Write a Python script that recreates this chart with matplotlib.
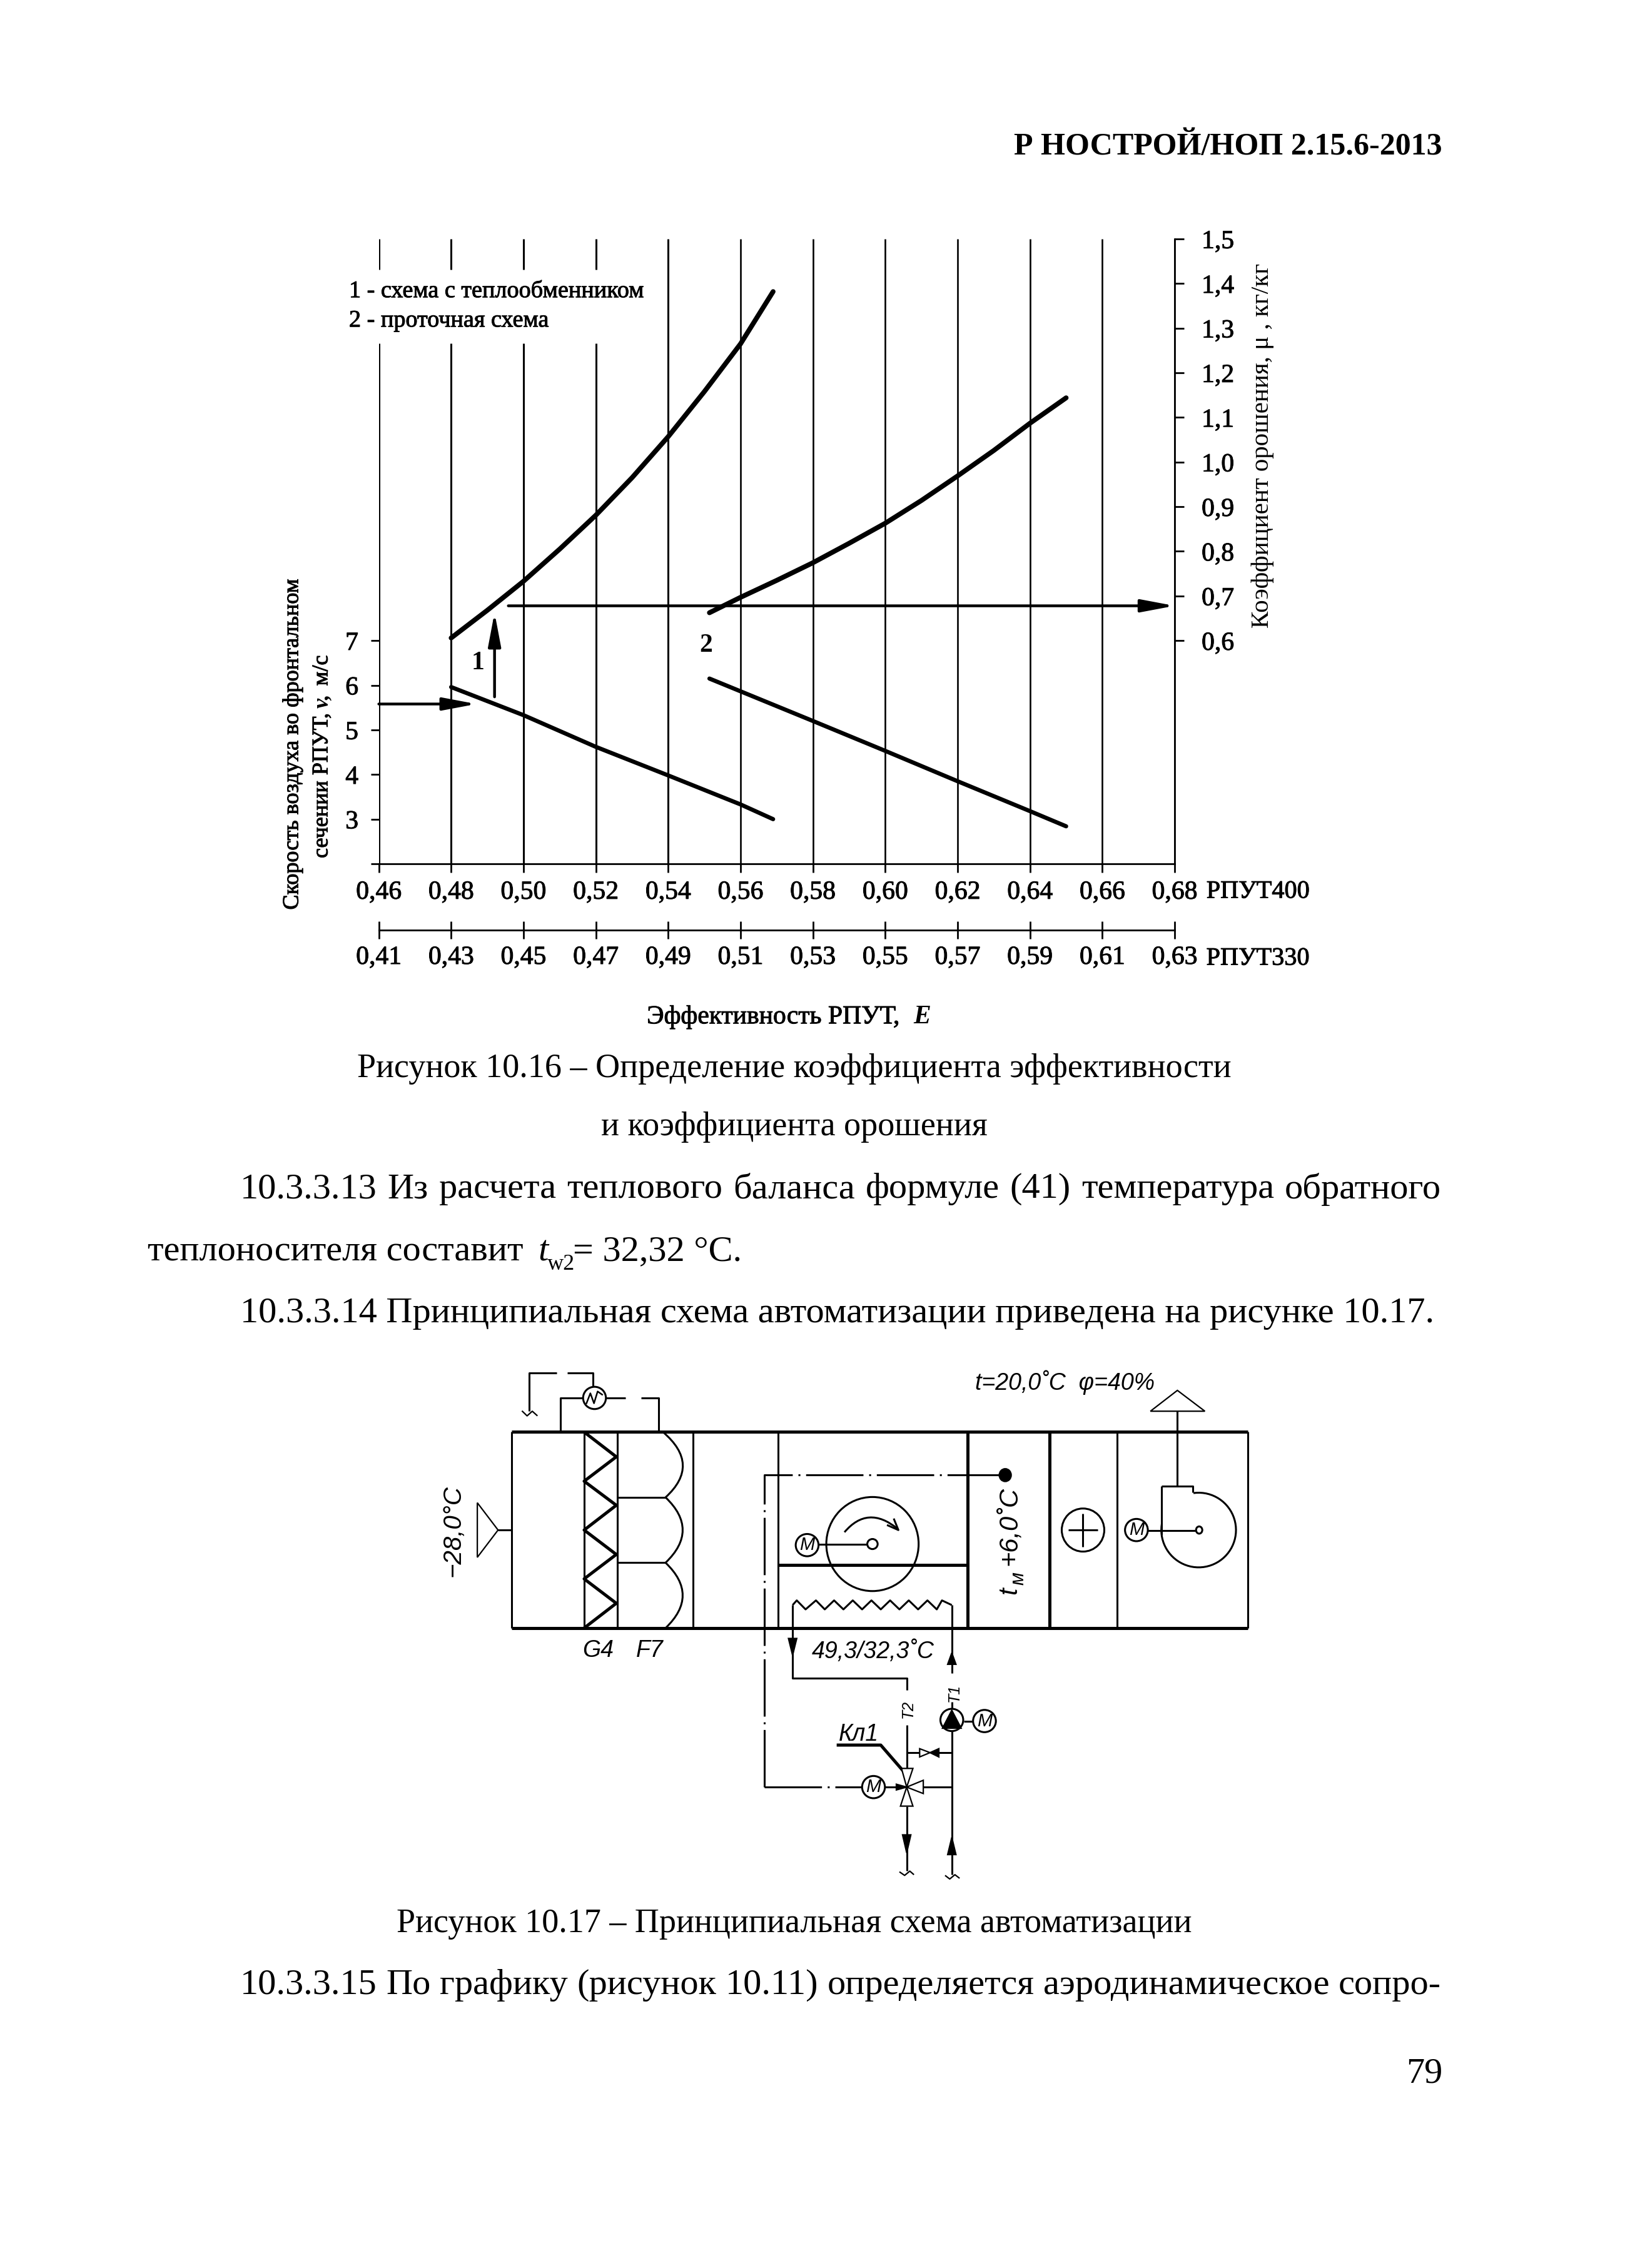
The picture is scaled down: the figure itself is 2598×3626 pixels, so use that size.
import numpy as np
import matplotlib
matplotlib.use('Agg')
import matplotlib.pyplot as plt
import matplotlib.patheffects as pe
from matplotlib.patches import Ellipse, Polygon, PathPatch
from matplotlib.path import Path

W, H = 2598, 3626

plt.rcParams['font.family'] = ['Liberation Serif', 'DejaVu Serif']

# chart data, E axis is the РПУТ400 one
e_ticks_400 = [0.46, 0.48, 0.50, 0.52, 0.54, 0.56, 0.58, 0.60, 0.62, 0.64, 0.66, 0.68]
e_labels_400 = ['0,46', '0,48', '0,50', '0,52', '0,54', '0,56', '0,58', '0,60', '0,62', '0,64', '0,66', '0,68']
e_ticks_330 = [0.41, 0.43, 0.45, 0.47, 0.49, 0.51, 0.53, 0.55, 0.57, 0.59, 0.61, 0.63]
e_labels_330 = ['0,41', '0,43', '0,45', '0,47', '0,49', '0,51', '0,53', '0,55', '0,57', '0,59', '0,61', '0,63']
v_ticks = [2, 3, 4, 5, 6, 7]
v_labels = ['', '3', '4', '5', '6', '7']
mu_ticks = [0.6, 0.7, 0.8, 0.9, 1.0, 1.1, 1.2, 1.3, 1.4, 1.5]
mu_labels = ['0,6', '0,7', '0,8', '0,9', '1,0', '1,1', '1,2', '1,3', '1,4', '1,5']

mu1_e = [0.48, 0.49, 0.50, 0.51, 0.52, 0.53, 0.54, 0.55, 0.56, 0.569]
mu1 = [0.606, 0.668, 0.733, 0.805, 0.881, 0.965, 1.057, 1.158, 1.265, 1.382]
mu2_e = [0.5514, 0.56, 0.57, 0.58, 0.59, 0.60, 0.61, 0.62, 0.63, 0.64, 0.65]
mu2 = [0.6625, 0.697, 0.735, 0.7745, 0.818, 0.863, 0.914, 0.969, 1.026, 1.087, 1.144]
v1_e = [0.48, 0.50, 0.52, 0.54, 0.56, 0.569]
v1 = [5.96, 5.33, 4.62, 3.98, 3.33, 3.0]
v2_e = [0.5514, 0.58, 0.60, 0.62, 0.64, 0.65]
v2 = [6.15, 5.2, 4.53, 3.85, 3.18, 2.84]

# reading arrows
arrow_v_in = (0.46, 0.487, 5.58)
arrow_up = (0.492, 5.74, 7.63)
arrow_mu_out = (0.4958, 0.68, 0.678)

fig = plt.figure(figsize=(W / 100, H / 100), dpi=100, facecolor='white')

# page layer in pixels
page = fig.add_axes([0, 0, 1, 1])
page.set_xlim(0, W)
page.set_ylim(H, 0)
page.axis('off')

BODY = 42
CAPTION = 39
CHART = 30
heavy = [pe.withStroke(linewidth=0.7, foreground='k')]


def ptext(x, y, s, size=BODY, **kw):
    kw.setdefault('va', 'center')
    return page.text(x, y, s, fontsize=size, **kw)


def justified(s, x0, x1, y):
    r = fig.canvas.get_renderer()
    words = s.split(' ')
    widths = []
    for w in words:
        t = ptext(0, 0, w)
        widths.append(t.get_window_extent(r).width)
        t.remove()
    gap = (x1 - x0 - sum(widths)) / (len(words) - 1)
    x = x0
    for w, wd in zip(words, widths):
        ptext(x, y, w)
        x += wd + gap


ptext(2306, 235, 'Р НОСТРОЙ/НОП 2.15.6-2013', size=36, ha='right', weight='bold')
ptext(1270, 1709, 'Рисунок 10.16 – Определение коэффициента эффективности', size=CAPTION, ha='center')
ptext(1270, 1802, 'и коэффициента орошения', size=CAPTION, ha='center')
justified('10.3.3.13 Из расчета теплового баланса формуле (41) температура обратного', 384, 2304, 1901)
ptext(236, 2001, 'теплоносителя составит')
ptext(860, 2001, 't', style='italic')
ptext(875, 2022, 'w2', size=26)
ptext(916, 2001, '= 32,32 °C.')
ptext(384, 2100, '10.3.3.14 Принципиальная схема автоматизации приведена на рисунке 10.17.')
ptext(1270, 3076, 'Рисунок 10.17 – Принципиальная схема автоматизации', size=CAPTION, ha='center')
justified('10.3.3.15 По графику (рисунок 10.11) определяется аэродинамическое сопро-', 384, 2304, 3174)
ptext(2306, 3316, '79', ha='right')

# chart
L, R, T, B = 605.6, 1878, 382, 1381
ax = fig.add_axes([L / W, 1 - B / H, (R - L) / W, (B - T) / H])
ax.patch.set_alpha(0)
ax.set_xlim(e_ticks_400[0], e_ticks_400[-1])
ax.set_ylim(2, 16)
for s in ['top', 'left', 'right']:
    ax.spines[s].set_visible(False)
ax.spines['bottom'].set_linewidth(2)

for e in e_ticks_400:
    if e <= 0.52:
        ax.vlines(e, 2, 13.66, color='k', lw=2.2)
        ax.vlines(e, 15.31, 16, color='k', lw=2.2)
    else:
        ax.vlines(e, 2, 16, color='k', lw=2.2 if e <= 0.54 else 1.9)

ax.set_xticks(e_ticks_400)
ax.set_xticklabels(e_labels_400, fontsize=CHART, path_effects=heavy)
ax.set_yticks(v_ticks)
ax.set_yticklabels(v_labels, fontsize=CHART, path_effects=heavy)
ax.tick_params(axis='x', direction='out', length=10, width=2, pad=9)
ax.tick_params(axis='y', direction='out', length=9.5, width=2, pad=14)

ax.plot(mu1_e, (np.array(mu1) + 0.1) * 10, color='k', lw=5.6, solid_capstyle='round')
ax.plot(mu2_e, (np.array(mu2) + 0.1) * 10, color='k', lw=5.6, solid_capstyle='round')
ax.plot(v1_e, v1, color='k', lw=4.8, solid_capstyle='round')
ax.plot(v2_e, v2, color='k', lw=4.8, solid_capstyle='round')

arrow = dict(arrowstyle='-|>,head_length=0.9,head_width=0.17', color='k', lw=3.2, shrinkA=0, shrinkB=0, mutation_scale=36)
ax.annotate('', xy=(arrow_v_in[1], arrow_v_in[2]), xytext=(arrow_v_in[0], arrow_v_in[2]), arrowprops=arrow)
ax.annotate('', xy=(arrow_up[0], arrow_up[2]), xytext=(arrow_up[0], arrow_up[1]), arrowprops=arrow)
ax.annotate('', xy=(arrow_mu_out[1], (arrow_mu_out[2] + 0.1) * 10), xytext=(arrow_mu_out[0], (arrow_mu_out[2] + 0.1) * 10), arrowprops=arrow)

right = ax.twinx()
right.patch.set_alpha(0)
right.set_ylim(0.1, 1.5)
for s in ['top', 'left', 'bottom']:
    right.spines[s].set_visible(False)
right.spines['right'].set_linewidth(2)
right.set_yticks(mu_ticks)
right.set_yticklabels(mu_labels, fontsize=CHART, path_effects=heavy)
right.tick_params(axis='y', direction='out', length=11, width=2, pad=20)

low = ax.twiny()
low.patch.set_alpha(0)
low.set_xlim(e_ticks_330[0], e_ticks_330[-1])
for s in ['top', 'left', 'right']:
    low.spines[s].set_visible(False)
low.xaxis.set_ticks_position('bottom')
low.xaxis.set_label_position('bottom')
low.spines['bottom'].set_position(('outward', 76))
low.spines['bottom'].set_linewidth(2)
low.set_xticks(e_ticks_330)
low.set_xticklabels(e_labels_330, fontsize=CHART, path_effects=heavy)
low.tick_params(axis='x', direction='inout', length=20, width=2, pad=8)

ptext(558, 466, '1 - схема с теплообменником', size=27.5, path_effects=heavy)
ptext(558, 513, '2 - проточная схема', size=27.5, path_effects=heavy)
ptext(764, 1060, '1', size=30, weight='bold', ha='center')
ptext(1129, 1032, '2', size=30, weight='bold', ha='center')
ptext(2011, 1426, 'РПУТ400', size=29, ha='center', path_effects=heavy)
ptext(2011, 1533, 'РПУТ330', size=29, ha='center', path_effects=heavy)
ptext(1236, 1626, 'Эффективность РПУТ,', size=30, ha='center', path_effects=heavy)
ptext(1474, 1626, 'E', size=30, ha='center', style='italic', weight='bold')
ptext(2019, 712, 'Коэффициент орошения, μ , кг/кг', size=29.5, rotation=90, ha='center')
ptext(468, 1190, 'Скорость воздуха во фронтальном', size=26, rotation=90, ha='center', path_effects=heavy)
ptext(515, 1256, 'сечении РПУТ,', size=26, rotation=90, ha='center', path_effects=heavy)
ptext(515, 1120, 'v,', size=26, rotation=90, ha='center', style='italic', weight='bold')
ptext(515, 1072, 'м/с', size=26, rotation=90, ha='center', path_effects=heavy)

# schematic, drawn in the units of a crop 1568 wide and high
sch = fig.add_axes([720 / W, 1 - 3050 / H, 1300 / W, 900 / H])
sch.set_xlim(0, 1568)
sch.set_ylim(1568, 0)
sch.axis('off')
THIN, THICK = 2.2, 3.6
DASH = (0, (30, 3, 1, 3))
SCH_FONT = 'Liberation Sans'


def seg(xs, ys, lw=THIN, ls='-', z=2):
    sch.plot(xs, ys, color='k', lw=lw, ls=ls, solid_capstyle='butt', clip_on=False, zorder=z)


def circ(x, y, w, h, lw=THIN, fc='white'):
    sch.add_patch(Ellipse((x, y), w, h, fc=fc, ec='k', lw=lw, zorder=3, clip_on=False))


def tri(pts, fc='white', lw=1.6):
    sch.add_patch(Polygon(pts, closed=True, fc=fc, ec='k', lw=lw, zorder=3, clip_on=False))


def curve(p0, c, p1, lw=THIN):
    sch.add_patch(PathPatch(Path([p0, c, p1], [Path.MOVETO, Path.CURVE3, Path.CURVE3]), fc='none', ec='k', lw=lw, clip_on=False))


def motor(x, y):
    circ(x, y, 44, 62)
    sch.text(x, y, 'M', fontsize=21, family=SCH_FONT, style='italic', ha='center', va='center', zorder=4)


def stext(x, y, s, size=24, rotation=0):
    sch.text(x, y, s, fontsize=size, family=SCH_FONT, style='italic', ha='center', va='center', rotation=rotation, clip_on=False)


box_vlines = [118, 258, 322, 468, 632, 997, 1156, 1286, 1538]
seg([118, 1538], [243, 243], THICK)
seg([118, 1538], [789, 789], THICK)
for x in box_vlines:
    seg([x, x], [243, 789], THICK if x in (997, 1156) else THIN)

tri([(52, 440), (92, 516), (52, 592)], fc='none')
seg([92, 118], [516, 516])

filter_x = [258, 320, 258, 320, 258, 320, 258, 320, 258]
filter_y = [243, 312, 380, 447, 516, 584, 652, 720, 789]
seg(filter_x, filter_y, THICK)

seg([322, 415], [425, 425])
seg([322, 415], [607, 607])
curve((410, 243), (484, 334), (415, 425))
curve((415, 425), (481, 516), (415, 607))
curve((415, 607), (481, 698), (415, 789))

# differential gauge
seg([212, 212, 256], [243, 148, 148])
seg([300, 338], [148, 148])
seg([368, 402, 402], [148, 148, 243])
seg([275, 275, 225], [118, 78, 78])
seg([205, 152, 152], [78, 78, 185])
circ(278, 148, 44, 62)
seg([262, 270, 277, 284, 294], [165, 135, 163, 130, 140], 1.8, z=5)
seg([138, 148, 158, 168], [184, 198, 185, 198], 1.6)

# sensor line
seg([605, 605, 1060], [1232, 363, 363], THIN, DASH)
seg([605, 795], [1232, 1232], THIN, DASH)
circ(1070, 363, 22, 34, fc='k')

# wheel
circ(814, 555, 178, 262, fc='none')
seg([710, 805], [555, 555])
circ(814, 555, 20, 28)
motor(688, 558)
curve((760, 522), (805, 445), (862, 512))
seg([842, 864, 855], [502, 516, 484], THIN)
seg([632, 997], [614, 614], THICK)

# coil
coil_x = [660, 668, 685, 705, 722, 740, 758, 776, 794, 812, 830, 848, 866, 884, 902, 920, 938, 948, 967]
coil_y = [725, 712, 737, 712, 737, 712, 737, 712, 737, 712, 737, 712, 737, 712, 737, 712, 737, 712, 725]
seg(coil_x, coil_y)
seg([660, 660, 880, 880], [725, 928, 928, 962])
seg([967, 967], [725, 915])
tri([(652, 818), (668, 818), (660, 865)], fc='k')
tri([(959, 890), (975, 890), (967, 858)], fc='k')

# pump and valves
seg([880, 880], [1060, 1180])
seg([967, 967], [995, 1475])
circ(967, 1045, 44, 62)
tri([(949, 1068), (985, 1068), (967, 1018)], fc='k')
motor(1030, 1048)
seg([990, 1008], [1048, 1048])
seg([880, 905], [1136, 1136])
tri([(905, 1125), (925, 1136), (905, 1148)])
tri([(925, 1136), (942, 1125), (942, 1148)], fc='k')
seg([942, 967], [1136, 1136])
tri([(870, 1180), (892, 1180), (880, 1232)])
tri([(868, 1285), (892, 1285), (880, 1232)])
tri([(912, 1213), (912, 1250), (880, 1232)])
tri([(860, 1224), (860, 1240), (880, 1232)], fc='k')
seg([912, 967], [1232, 1232])
seg([880, 880], [1285, 1465])
tri([(872, 1365), (888, 1365), (880, 1415)], fc='k')
tri([(959, 1420), (975, 1420), (967, 1372)], fc='k')
seg([866, 876, 886, 894], [1468, 1478, 1466, 1476], 1.6)
seg([954, 963, 973, 982], [1478, 1488, 1476, 1486], 1.6)
motor(816, 1232)
seg([838, 862], [1232, 1232])
seg([745, 830, 878], [1115, 1115, 1195], THICK)

# heater, fan
circ(1220, 516, 82, 120, fc='none')
seg([1192, 1248], [516, 516])
seg([1220, 1220], [470, 562])
tri([(1402, 127), (1350, 185), (1455, 185)], fc='none')
seg([1402, 1402], [185, 393])
seg([1372, 1432, 1432], [393, 393, 412])
seg([1372, 1372], [393, 530])
fan_t = np.radians(np.linspace(-98, 190, 60))
seg(1443 + 72 * np.cos(fan_t), 516 + 104 * np.sin(fan_t))
motor(1323, 516)
seg([1345, 1440], [518, 518], THIN, DASH)
circ(1444, 516, 12, 20)

stext(1185, 105, 't=20,0˚C  φ=40%', 27)
stext(285, 852, 'G4', 27)
stext(385, 852, 'F7', 27)
stext(815, 855, '49,3/32,3˚C', 27)
stext(1078, 685, 't', 30, 90)
stext(1096, 650, 'м', 22, 90)
stext(1078, 505, '+6,0˚C', 30, 90)
stext(5, 518, '−28,0°C', 29, 90)
stext(883, 1015, 'T2', 18, 90)
stext(972, 970, 'T1', 18, 90)
stext(788, 1085, 'Кл1', 27)

fig.savefig('out.png', dpi=100, facecolor='white')
